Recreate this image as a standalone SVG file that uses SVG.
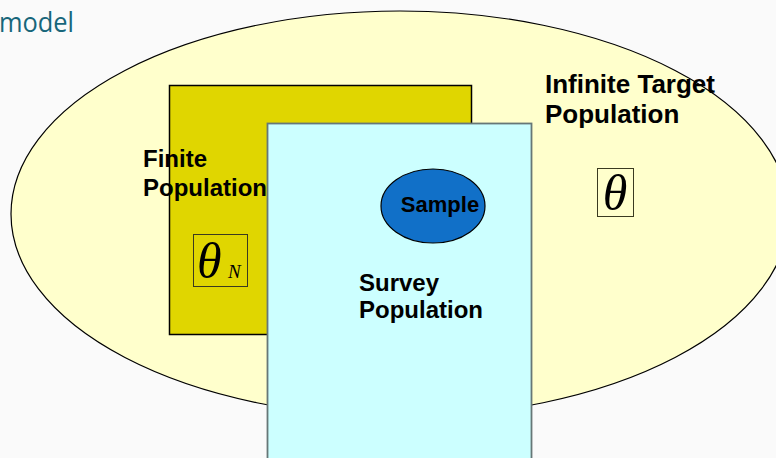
<svg xmlns="http://www.w3.org/2000/svg" width="776" height="458" viewBox="0 0 776 458">
<style>
.lbl{font-family:"Liberation Sans",Arial,sans-serif;font-weight:bold;fill:#000}
.math{font-family:"Liberation Serif","Times New Roman",serif;font-style:italic;fill:#000}
.box{fill:none;stroke:#3a3a20;stroke-width:1}
</style>
<rect x="0" y="0" width="776" height="458" fill="#fafafa"/>
<text x="-1" y="32" font-family="'Open Sans','Liberation Sans',sans-serif" font-size="28" fill="#17667a" textLength="75" lengthAdjust="spacingAndGlyphs">model</text>
<g id="target">
<ellipse cx="400" cy="214" rx="389" ry="203" fill="#ffffcc" stroke="#000" stroke-width="1.2"/>
<text class="lbl" font-size="26"><tspan x="545" y="93">Infinite Target</tspan><tspan x="545" y="123">Population</tspan></text>
<rect class="box" x="597.5" y="168.5" width="36" height="48"/>
<text class="math" x="615" y="210" font-size="50" text-anchor="middle">θ</text>
</g>
<g id="finite">
<rect x="169.5" y="85.5" width="302" height="249" fill="#e0d600" stroke="#000" stroke-width="1.5"/>
<rect class="box" x="193.5" y="234.5" width="54" height="52"/>
<text class="math" x="197" y="278" font-size="50">θ</text>
<text class="math" x="228" y="278" font-size="19">N</text>
</g>
<g id="survey">
<rect x="267.5" y="123.5" width="264" height="345" fill="#ccffff" stroke="#667777" stroke-width="1.8"/>
<text class="lbl" font-size="24"><tspan x="359" y="291">Survey</tspan><tspan x="359" y="318">Population</tspan></text>
</g>
<g id="finite-label">
<text class="lbl" font-size="24"><tspan x="143" y="167">Finite</tspan><tspan x="143" y="196">Population</tspan></text>
</g>
<g id="sample">
<ellipse cx="433" cy="206" rx="52" ry="37" fill="#1170c8" stroke="#000" stroke-width="1.2"/>
<text class="lbl" x="440" y="212" font-size="22" text-anchor="middle">Sample</text>
</g>
<g id="connectors"/>
</svg>
